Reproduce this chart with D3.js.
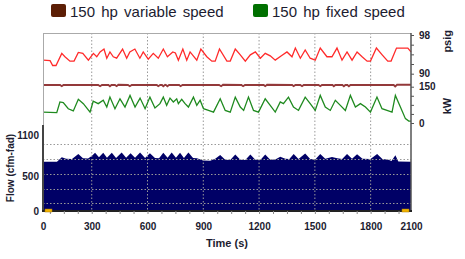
<!DOCTYPE html>
<html>
<head>
<meta charset="utf-8">
<script src="https://cdn.jsdelivr.net/npm/d3@7"></script>
<style>
  body { margin: 0; background: #fff; }
  text { font-family: Arial, "Liberation Sans", sans-serif; }
</style>
</head>
<body>
<svg id="chart" width="465" height="259"></svg>
<script>
// pressure (psig)
const pressure = [[40,92.8],[76,92.7],[90,91.7],[108,91.7],[139,94.2],[156,93.5],[183,92.6],[205,92.6],[228,94.4],[252,94.2],[282,92.8],[309,94.2],[327,93.5],[345,94.5],[366,95.1],[381,93.2],[398,94.5],[416,93.5],[434,93.2],[466,95.1],[488,93.2],[505,94.5],[532,95.1],[559,93.2],[577,94.5],[604,93.0],[631,94.2],[658,93.2],[685,95.1],[707,93.5],[736,94.5],[750,94.3],[766,92.8],[790,95.1],[811,92.8],[829,94.5],[865,92.8],[887,95.1],[919,93.5],[946,92.6],[964,92.6],[987,95.1],[1027,92.6],[1045,92.6],[1072,95.1],[1099,93.9],[1126,92.6],[1153,93.9],[1180,94.5],[1207,93.2],[1233,94.2],[1260,93.7],[1287,92.8],[1320,93.7],[1350,94.5],[1377,93.5],[1395,95.3],[1422,93.2],[1448,94.9],[1475,93.2],[1502,92.8],[1529,95.3],[1565,93.5],[1592,93.5],[1619,95.3],[1646,92.8],[1673,94.5],[1700,92.8],[1727,94.5],[1754,93.5],[1781,92.6],[1799,92.6],[1831,95.3],[1862,93.9],[1892,92.6],[1910,92.6],[1939,95.3],[2000,95.3],[2017,94.5]];

// 150 hp variable speed (kW)
const varSpeed = [[38,157],[130,157],[139,152],[148,157],[335,157],[345,152],[355,157],[390,157],[398,152],[406,157],[425,157],[434,152],[443,158],[495,157],[505,152],[515,157],[650,157],[658,152],[668,157],[678,157],[685,152],[695,158],[700,157],[707,152],[716,157],[770,157],[778,152],[788,157],[985,157],[996,152],[1006,158],[1105,157],[1114,152],[1124,157],[1225,157],[1233,152],[1243,158],[1378,157],[1386,152],[1395,157],[1422,157],[1431,152],[1440,157],[1520,157],[1529,152],[1538,157],[1595,157],[1602,152],[1610,157],[1648,157],[1656,152],[1664,157],[1675,157],[1683,152],[1691,157],[1924,157],[1932,151],[1942,158],[2017,158]];

// 150 hp fixed speed (kW)
const fixedSpeed = [[38,45],[112,43],[129,87],[147,84],[174,59],[201,50],[228,98],[255,80],[291,45],[308,90],[335,80],[362,94],[381,66],[398,107],[425,59],[452,100],[479,66],[506,114],[533,66],[560,103],[587,59],[613,107],[640,62],[667,80],[685,107],[703,73],[721,103],[739,87],[757,100],[766,80],[784,98],[802,80],[820,66],[847,107],[865,73],[883,94],[901,59],[928,52],[955,45],[991,100],[1018,52],[1045,45],[1072,107],[1099,66],[1117,52],[1143,107],[1170,52],[1197,45],[1233,100],[1260,73],[1287,45],[1314,87],[1331,80],[1358,107],[1385,66],[1412,52],[1448,107],[1475,80],[1502,52],[1529,114],[1556,66],[1583,52],[1610,94],[1637,73],[1664,52],[1691,114],[1718,66],[1745,80],[1772,66],[1799,45],[1834,107],[1861,59],[1888,52],[1915,45],[1933,114],[1960,66],[1987,18],[2005,8],[2017,8]];

// total flow (cfm-fad)
const flow = [[38,717],[113,717],[139,780],[162,760],[194,755],[228,830],[253,765],[280,762],[300,800],[318,845],[339,780],[362,845],[382,775],[408,845],[431,770],[461,850],[485,775],[509,840],[533,775],[560,850],[587,770],[613,840],[640,770],[662,765],[685,845],[708,775],[730,850],[753,775],[775,845],[796,770],[820,850],[845,770],[866,768],[899,735],[937,730],[964,760],[991,815],[1018,745],[1045,740],[1072,820],[1099,745],[1126,740],[1153,820],[1180,745],[1207,740],[1233,820],[1260,745],[1287,750],[1314,790],[1341,760],[1363,755],[1386,830],[1412,755],[1448,835],[1475,755],[1502,750],[1529,830],[1556,760],[1592,785],[1620,765],[1647,755],[1673,830],[1700,760],[1727,825],[1756,760],[1799,755],[1835,830],[1863,755],[1896,745],[1912,725],[1933,810],[1949,720],[2017,717]];

const timeTicks = [0, 300, 600, 900, 1200, 1500, 1800, 2100];
const timeGrid = [300, 600, 900, 1200, 1500, 1800];
const flowTicks = [0, 500, 1100];
const flowGrid = [110, 325, 540, 755, 970];
const psigTicks = [90, 98];
const kwTicks = [0, 150];
const legendItems = [
  {label: "150 hp variable speed", color: "#5c1e05"},
  {label: "150 hp fixed speed", color: "#007000"}
];

let svg = d3.select("#chart");
let plotLeft = 43, plotRight = 411, plotTop = 33, plotBottom = 211;
let inkColor = "#1c1c30";
let tickFont = "Arial, 'Liberation Sans', sans-serif";
let plain = d3.format("d");

let x = d3.scaleLinear().domain([38, 2017]).range([plotLeft, plotRight]).clamp(true);
let psigY = d3.scaleLinear().domain([90, 98]).range([73.7, 35]);
let kwY = d3.scaleLinear().domain([0, 150]).range([123, 86.7]);
let flowY = d3.scaleLinear().domain([0, 1250]).range([plotBottom, 125]);

// flow area
svg.append("path")
  .datum(flow)
  .attr("fill", "#000066")
  .attr("d", d3.area().x(d => x(d[0])).y0(flowY(0)).y1(d => flowY(d[1])));

// grid
svg.append("g").selectAll("line")
  .data(timeGrid)
  .enter().append("line")
  .attr("x1", d => x(d)).attr("x2", d => x(d))
  .attr("y1", plotTop).attr("y2", plotBottom)
  .attr("stroke", "#999").attr("stroke-width", 1).attr("stroke-dasharray", "1.5,2");

svg.append("g").selectAll("line")
  .data(flowGrid)
  .enter().append("line")
  .attr("x1", plotLeft).attr("x2", plotRight)
  .attr("y1", d => Math.round(flowY(d)) + 0.5).attr("y2", d => Math.round(flowY(d)) + 0.5)
  .attr("stroke", "#999").attr("stroke-width", 1).attr("stroke-dasharray", "1.5,2");

// traces
let lineOf = yScale => d3.line().x(d => x(d[0])).y(d => yScale(d[1]));

svg.append("path").datum(pressure)
  .attr("fill", "none").attr("stroke", "#ff2a2a").attr("stroke-width", 1.3)
  .attr("d", lineOf(psigY));

svg.append("path").datum(varSpeed)
  .attr("fill", "none").attr("stroke", "#93393a").attr("stroke-width", 1.8)
  .attr("d", lineOf(kwY));

svg.append("path").datum(fixedSpeed)
  .attr("fill", "none").attr("stroke", "#1f8a1f").attr("stroke-width", 1.3)
  .attr("d", lineOf(kwY));

// frame
svg.append("line").attr("x1", plotLeft).attr("x2", plotRight).attr("y1", plotTop + 0.5).attr("y2", plotTop + 0.5)
  .attr("stroke", "#aaa");
svg.append("line").attr("x1", plotLeft + 0.5).attr("x2", plotLeft + 0.5).attr("y1", plotTop).attr("y2", 125)
  .attr("stroke", "#aaa");
svg.append("line").attr("x1", plotLeft).attr("x2", plotLeft).attr("y1", 125).attr("y2", plotBottom)
  .attr("stroke", "#444").attr("stroke-width", 2);
svg.append("line").attr("x1", plotRight).attr("x2", plotRight).attr("y1", plotTop).attr("y2", plotBottom + 1)
  .attr("stroke", "#555").attr("stroke-width", 1.5);
svg.append("line").attr("x1", plotLeft - 1).attr("x2", plotRight + 1).attr("y1", plotBottom).attr("y2", plotBottom)
  .attr("stroke", "#222").attr("stroke-width", 2);

// bottom axis
svg.append("g")
  .attr("transform", "translate(0," + plotBottom + ")")
  .call(d3.axisBottom(x).tickValues(d3.range(75, 2017, 75)).tickSize(3).tickFormat(""))
  .call(g => g.select(".domain").remove())
  .call(g => g.selectAll("line").attr("stroke", "#888"));

svg.append("g")
  .attr("transform", "translate(0," + plotBottom + ")")
  .call(d3.axisBottom(x).tickValues(timeTicks).tickSize(0).tickPadding(12).tickFormat(plain))
  .call(g => g.select(".domain").remove())
  .call(g => g.selectAll("text").attr("font-size", 10).attr("font-weight", "bold")
    .attr("fill", inkColor).attr("font-family", tickFont));

// flow axis
svg.append("g")
  .attr("transform", "translate(" + plotLeft + ",0)")
  .call(d3.axisLeft(flowY).tickValues(flowTicks).tickSize(0).tickPadding(4).tickFormat(plain))
  .call(g => g.select(".domain").remove())
  .call(g => g.selectAll("text").attr("font-size", 10).attr("font-weight", "bold")
    .attr("fill", inkColor).attr("font-family", tickFont));

// right axes
[[psigY, psigTicks, [90, 92, 94, 96, 98]], [kwY, kwTicks, [0, 37.5, 75, 112.5, 150]]].forEach(([scale, ticks, minor]) => {
  svg.append("g")
    .attr("transform", "translate(" + plotRight + ",0)")
    .call(d3.axisRight(scale).tickValues(minor).tickSize(3).tickFormat(""))
    .call(g => g.select(".domain").remove())
    .call(g => g.selectAll("line").attr("stroke", "#555"));
  svg.append("g")
    .attr("transform", "translate(" + plotRight + ",0)")
    .call(d3.axisRight(scale).tickValues(ticks).tickSize(0).tickPadding(8).tickFormat(plain))
    .call(g => g.select(".domain").remove())
    .call(g => g.selectAll("text").attr("font-size", 10).attr("font-weight", "bold")
      .attr("fill", inkColor).attr("font-family", tickFont));
});

// scroll handles
[38, 2017].forEach((t, i) => {
  svg.append("rect")
    .attr("x", i ? x(t) - 9 : x(t) + 2).attr("y", plotBottom - 2)
    .attr("width", 7).attr("height", 3)
    .attr("fill", "#f2b400").attr("stroke", "#a87a00").attr("stroke-width", 0.5);
});

// axis titles
svg.append("text").text("Time (s)")
  .attr("x", 227).attr("y", 247).attr("text-anchor", "middle")
  .attr("font-size", 11).attr("font-weight", "bold").attr("fill", inkColor);

svg.append("text").text("Flow (cfm-fad)")
  .attr("transform", "translate(14,168) rotate(-90)").attr("text-anchor", "middle")
  .attr("font-size", 10).attr("font-weight", "bold").attr("fill", inkColor);

svg.append("text").text("psig")
  .attr("transform", "translate(451," + psigY(96.7) + ") rotate(-90)").attr("text-anchor", "middle")
  .attr("font-size", 11).attr("font-weight", "bold").attr("fill", inkColor);

svg.append("text").text("kW")
  .attr("transform", "translate(451," + kwY(70) + ") rotate(-90)").attr("text-anchor", "middle")
  .attr("font-size", 11).attr("font-weight", "bold").attr("fill", inkColor);

// legend
let legendX = [51, 253];
let legend = svg.append("g").selectAll("g")
  .data(legendItems)
  .enter().append("g")
  .attr("transform", (d, i) => "translate(" + legendX[i] + ",4)");

legend.append("rect")
  .attr("width", 15).attr("height", 13).attr("rx", 2)
  .attr("fill", d => d.color);

legend.append("text")
  .attr("x", 19).attr("y", 12.5)
  .attr("font-size", 15).attr("word-spacing", 2).attr("fill", inkColor)
  .text(d => d.label);
</script>
</body>
</html>
